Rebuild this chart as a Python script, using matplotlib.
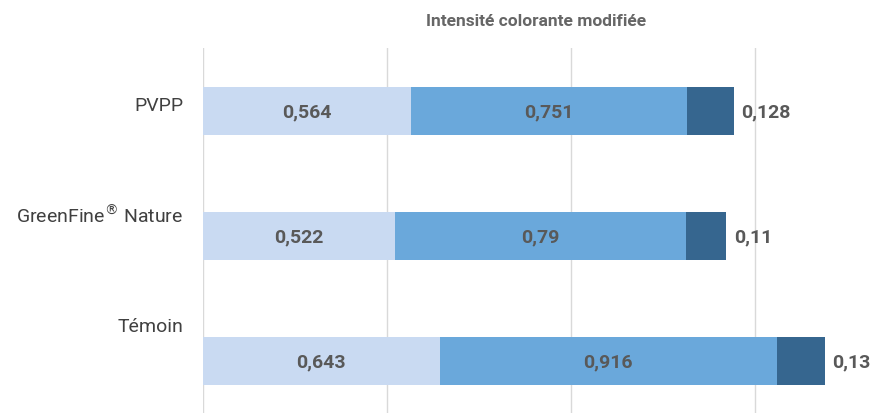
import matplotlib
matplotlib.use("Agg")
import matplotlib.pyplot as plt

# data
categories = ["PVPP", "GreenFine$^{®}$ Nature", "Témoin"]
seg1 = [0.564, 0.522, 0.643]
seg2 = [0.751, 0.79, 0.916]
seg3 = [0.128, 0.11, 0.13]
title = "Intensité colorante modifiée"

colors = ["#c9daf2", "#6aa8db", "#36668f"]
text_gray = "#595959"

plt.rcParams["font.family"] = ["Roboto", "DejaVu Sans"]


def fmt(v):
    return f"{v:g}".replace(".", ",")


W, H = 876, 414
fig = plt.figure(figsize=(W / 100, H / 100), dpi=100)
ax = fig.add_axes([203 / W, 0, 1 - 203 / W, (H - 49) / H])

y = list(range(len(categories)))
left2 = [a for a in seg1]
left3 = [a + b for a, b in zip(seg1, seg2)]
h = 0.39
ax.barh(y, seg1, height=h, color=colors[0])
ax.barh(y, seg2, left=left2, height=h, color=colors[1])
ax.barh(y, seg3, left=left3, height=h, color=colors[2])

for i in y:
    ax.text(seg1[i] / 2, i, fmt(seg1[i]), ha="center", va="center",
            fontsize=14, fontweight="bold", color=text_gray)
    ax.text(left2[i] + seg2[i] / 2, i, fmt(seg2[i]), ha="center", va="center",
            fontsize=14, fontweight="bold", color=text_gray)
    ax.text(left3[i] + seg3[i] + 0.02, i, fmt(seg3[i]), ha="left", va="center",
            fontsize=14, fontweight="bold", color=text_gray)

ax.set_xlim(0, (W - 203) / 368)
ax.set_ylim(2.416, -0.504)
ax.set_xticks([0, 0.5, 1.0, 1.5])
ax.xaxis.grid(True, color="#d9d9d9", linewidth=1)
ax.set_axisbelow(True)
ax.set_yticks([])
ax.tick_params(axis="x", length=0, labelbottom=False)
for s in ax.spines.values():
    s.set_visible(False)

# category labels sit a bit above their bars
label_y = [106, 216, 327]
for name, ly in zip(categories, label_y):
    fig.text(183 / W, 1 - ly / H, name, ha="right", va="center",
             fontsize=14, color="#404040")

fig.text(536 / W, 1 - 21 / H, title, ha="center", va="center",
         fontsize=12.5, fontweight="bold", color="#666666")

fig.savefig("out.png", dpi=100)
